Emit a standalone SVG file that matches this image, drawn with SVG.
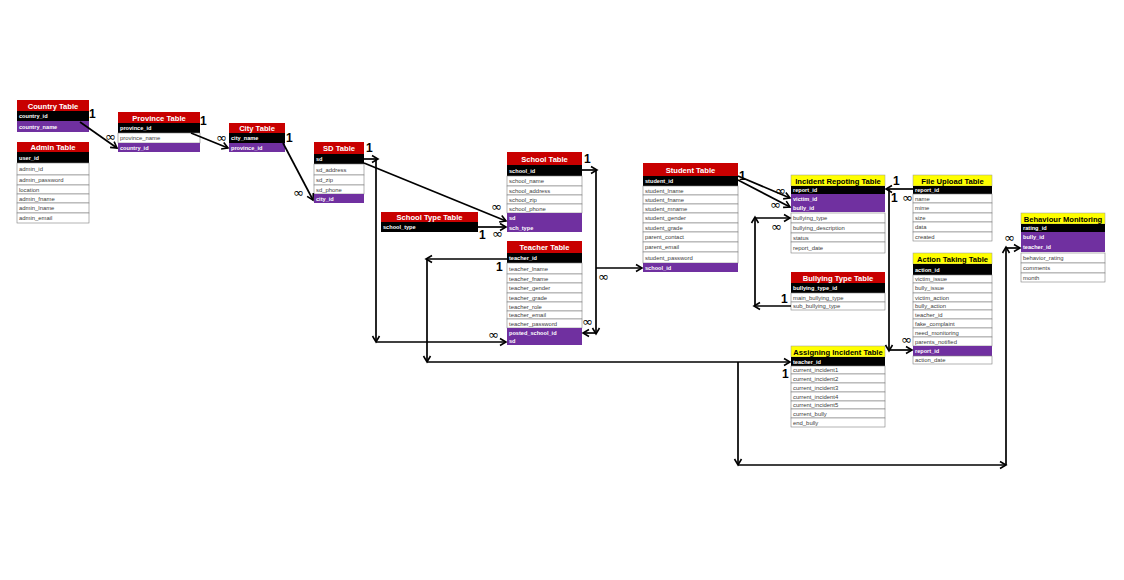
<svg xmlns="http://www.w3.org/2000/svg" width="1124" height="580" viewBox="0 0 1124 580">
<defs>
<marker id="ah" markerUnits="userSpaceOnUse" markerWidth="10" markerHeight="10" refX="8" refY="5" orient="auto">
<path d="M2,1.5 L8,5 L2,8.5" fill="none" stroke="#000" stroke-width="1.6"/>
</marker>
</defs>
<style>
.hr{fill:#c80000}
.hy{fill:#ffff00;stroke:#999;stroke-width:0.5}
.rk{fill:#000}
.rp{fill:#7030a0}
.rw{fill:#fff;stroke:#7f7f7f;stroke-width:0.6}
.th{font-family:"Liberation Sans",Arial,sans-serif;font-weight:bold;font-size:7.6px;fill:#fff;text-anchor:middle}
.thy{font-family:"Liberation Sans",Arial,sans-serif;font-weight:bold;font-size:7.6px;fill:#000;text-anchor:middle}
.tk{font-family:"Liberation Sans",Arial,sans-serif;font-weight:bold;font-size:5.6px;fill:#fff}
.tg{font-family:"Liberation Sans",Arial,sans-serif;font-size:5.9px;fill:#404040}
.ca{fill:none;stroke:#000;stroke-width:1.7;marker-end:url(#ah)}
.one{font-family:"Liberation Sans",Arial,sans-serif;font-weight:bold;font-size:12px;fill:#000}
.inf{font-family:"DejaVu Sans",sans-serif;font-size:13px;fill:#000}
</style>
<rect width="1124" height="580" fill="#fff"/>

<g id="country">
<rect class="hr" x="17" y="100" width="72" height="11"/><text class="th" x="53" y="108.5">Country Table</text>
<rect class="rk" x="17" y="111" width="72" height="10"/><text class="tk" x="19" y="118">country_id</text>
<rect class="rp" x="17" y="121" width="72" height="11"/><text class="tk" x="19" y="128.5">country_name</text>
</g>

<g id="admin">
<rect class="hr" x="17" y="142" width="72" height="10"/><text class="th" x="53" y="150">Admin Table</text>
<rect class="rk" x="17" y="152" width="72" height="11"/><text class="tk" x="19" y="159.5">user_id</text>
<rect class="rw" x="17" y="163" width="72" height="12"/><text class="tg" x="19" y="171">admin_id</text>
<rect class="rw" x="17" y="175" width="72" height="10"/><text class="tg" x="19" y="182">admin_password</text>
<rect class="rw" x="17" y="185" width="72" height="9"/><text class="tg" x="19" y="191.5">location</text>
<rect class="rw" x="17" y="194" width="72" height="9"/><text class="tg" x="19" y="200.5">admin_fname</text>
<rect class="rw" x="17" y="203" width="72" height="10"/><text class="tg" x="19" y="210">admin_lname</text>
<rect class="rw" x="17" y="213" width="72" height="10"/><text class="tg" x="19" y="220">admin_email</text>
</g>

<g id="province">
<rect class="hr" x="118" y="112" width="82" height="11"/><text class="th" x="159" y="120.5">Province Table</text>
<rect class="rk" x="118" y="123" width="82" height="10"/><text class="tk" x="120" y="130">province_id</text>
<rect class="rw" x="118" y="133" width="82" height="10"/><text class="tg" x="120" y="140">province_name</text>
<rect class="rp" x="118" y="143" width="82" height="9"/><text class="tk" x="120" y="149.5">country_id</text>
</g>

<g id="city">
<rect class="hr" x="229" y="123" width="56" height="10"/><text class="th" x="257" y="131">City Table</text>
<rect class="rk" x="229" y="133" width="56" height="10"/><text class="tk" x="231" y="140">city_name</text>
<rect class="rp" x="229" y="143" width="56" height="9"/><text class="tk" x="231" y="149.5">province_id</text>
</g>

<g id="sd">
<rect class="hr" x="314" y="142" width="50" height="12"/><text class="th" x="339" y="151">SD Table</text>
<rect class="rk" x="314" y="154" width="50" height="10"/><text class="tk" x="316" y="161">sd</text>
<rect class="rw" x="314" y="164" width="50" height="11"/><text class="tg" x="316" y="171.5">sd_address</text>
<rect class="rw" x="314" y="175" width="50" height="10"/><text class="tg" x="316" y="182">sd_zip</text>
<rect class="rw" x="314" y="185" width="50" height="9"/><text class="tg" x="316" y="191.5">sd_phone</text>
<rect class="rp" x="314" y="194" width="50" height="9"/><text class="tk" x="316" y="200.5">city_id</text>
</g>

<g id="schooltype">
<rect class="hr" x="381" y="212" width="97" height="10"/><text class="th" x="429.5" y="220">School Type Table</text>
<rect class="rk" x="381" y="222" width="97" height="10"/><text class="tk" x="383" y="229">school_type</text>
</g>

<g id="school">
<rect class="hr" x="507" y="152" width="75" height="13"/><text class="th" x="544.5" y="161.5">School Table</text>
<rect class="rk" x="507" y="165" width="75" height="11"/><text class="tk" x="509" y="172.5">school_id</text>
<rect class="rw" x="507" y="176" width="75" height="10"/><text class="tg" x="509" y="183">school_name</text>
<rect class="rw" x="507" y="186" width="75" height="9"/><text class="tg" x="509" y="192.5">school_address</text>
<rect class="rw" x="507" y="195" width="75" height="9"/><text class="tg" x="509" y="201.5">school_zip</text>
<rect class="rw" x="507" y="204" width="75" height="9"/><text class="tg" x="509" y="210.5">school_phone</text>
<rect class="rp" x="507" y="213" width="75" height="10"/><text class="tk" x="509" y="220">sd</text>
<rect class="rp" x="507" y="223" width="75" height="9"/><text class="tk" x="509" y="229.5">sch_type</text>
</g>

<g id="teacher">
<rect class="hr" x="507" y="241" width="75" height="12"/><text class="th" x="544.5" y="250">Teacher Table</text>
<rect class="rk" x="507" y="253" width="75" height="10"/><text class="tk" x="509" y="260">teacher_id</text>
<rect class="rw" x="507" y="263" width="75" height="11"/><text class="tg" x="509" y="270.5">teacher_lname</text>
<rect class="rw" x="507" y="274" width="75" height="9"/><text class="tg" x="509" y="280.5">teacher_fname</text>
<rect class="rw" x="507" y="283" width="75" height="10"/><text class="tg" x="509" y="290">teacher_gender</text>
<rect class="rw" x="507" y="293" width="75" height="9"/><text class="tg" x="509" y="299.5">teacher_grade</text>
<rect class="rw" x="507" y="302" width="75" height="9"/><text class="tg" x="509" y="308.5">teacher_role</text>
<rect class="rw" x="507" y="311" width="75" height="8"/><text class="tg" x="509" y="317">teacher_email</text>
<rect class="rw" x="507" y="319" width="75" height="9"/><text class="tg" x="509" y="325.5">teacher_password</text>
<rect class="rp" x="507" y="328" width="75" height="9"/><text class="tk" x="509" y="334.5">posted_school_id</text>
<rect class="rp" x="507" y="337" width="75" height="8"/><text class="tk" x="509" y="343">sd</text>
</g>

<g id="student">
<rect class="hr" x="643" y="163" width="95" height="13"/><text class="th" x="690.5" y="172.5">Student Table</text>
<rect class="rk" x="643" y="176" width="95" height="10"/><text class="tk" x="645" y="183">student_id</text>
<rect class="rw" x="643" y="186" width="95" height="9"/><text class="tg" x="645" y="192.5">student_lname</text>
<rect class="rw" x="643" y="195" width="95" height="9"/><text class="tg" x="645" y="201.5">student_fname</text>
<rect class="rw" x="643" y="204" width="95" height="9"/><text class="tg" x="645" y="210.5">student_mname</text>
<rect class="rw" x="643" y="213" width="95" height="10"/><text class="tg" x="645" y="220">student_gender</text>
<rect class="rw" x="643" y="223" width="95" height="9"/><text class="tg" x="645" y="229.5">student_grade</text>
<rect class="rw" x="643" y="232" width="95" height="10"/><text class="tg" x="645" y="239">parent_contact</text>
<rect class="rw" x="643" y="242" width="95" height="10"/><text class="tg" x="645" y="249">parent_email</text>
<rect class="rw" x="643" y="252" width="95" height="11"/><text class="tg" x="645" y="259.5">student_password</text>
<rect class="rp" x="643" y="263" width="95" height="9"/><text class="tk" x="645" y="269.5">school_id</text>
</g>

<g id="incident">
<rect class="hy" x="791" y="175" width="94" height="11"/><text class="thy" x="838" y="183.5">Incident Repoting Table</text>
<rect class="rk" x="791" y="186" width="94" height="8"/><text class="tk" x="793" y="192">report_id</text>
<rect class="rp" x="791" y="194" width="94" height="9"/><text class="tk" x="793" y="200.5">victim_id</text>
<rect class="rp" x="791" y="203" width="94" height="9"/><text class="tk" x="793" y="209.5">bully_id</text>
<rect class="rw" x="791" y="213" width="94" height="10"/><text class="tg" x="793" y="220">bullying_type</text>
<rect class="rw" x="791" y="223" width="94" height="10"/><text class="tg" x="793" y="230">bullying_description</text>
<rect class="rw" x="791" y="233" width="94" height="9"/><text class="tg" x="793" y="239.5">status</text>
<rect class="rw" x="791" y="242" width="94" height="11"/><text class="tg" x="793" y="249.5">report_date</text>
</g>

<g id="bullyingtype">
<rect class="hr" x="791" y="272" width="94" height="11"/><text class="th" x="838" y="280.5">Bullying Type Table</text>
<rect class="rk" x="791" y="283" width="94" height="10"/><text class="tk" x="793" y="290">bullying_type_id</text>
<rect class="rw" x="791" y="293" width="94" height="9"/><text class="tg" x="793" y="299.5">main_bullying_type</text>
<rect class="rw" x="791" y="302" width="94" height="8"/><text class="tg" x="793" y="308">sub_bullying_type</text>
</g>

<g id="fileupload">
<rect class="hy" x="913" y="175" width="79" height="11"/><text class="thy" x="952.5" y="183.5">File Upload Table</text>
<rect class="rk" x="913" y="186" width="79" height="8"/><text class="tk" x="915" y="192">report_id</text>
<rect class="rw" x="913" y="194" width="79" height="9"/><text class="tg" x="915" y="200.5">name</text>
<rect class="rw" x="913" y="203" width="79" height="10"/><text class="tg" x="915" y="210">mime</text>
<rect class="rw" x="913" y="213" width="79" height="9"/><text class="tg" x="915" y="219.5">size</text>
<rect class="rw" x="913" y="222" width="79" height="10"/><text class="tg" x="915" y="229">data</text>
<rect class="rw" x="913" y="232" width="79" height="9"/><text class="tg" x="915" y="238.5">created</text>
</g>

<g id="actiontaking">
<rect class="hy" x="913" y="253" width="79" height="11"/><text class="thy" x="952.5" y="261.5">Action Taking Table</text>
<rect class="rk" x="913" y="264" width="79" height="11"/><text class="tk" x="915" y="271.5">action_id</text>
<rect class="rw" x="913" y="275" width="79" height="8"/><text class="tg" x="915" y="281">victim_issue</text>
<rect class="rw" x="913" y="283" width="79" height="10"/><text class="tg" x="915" y="290">bully_issue</text>
<rect class="rw" x="913" y="293" width="79" height="9"/><text class="tg" x="915" y="299.5">victim_action</text>
<rect class="rw" x="913" y="302" width="79" height="8"/><text class="tg" x="915" y="308">bully_action</text>
<rect class="rw" x="913" y="310" width="79" height="9"/><text class="tg" x="915" y="316.5">teacher_id</text>
<rect class="rw" x="913" y="319" width="79" height="9"/><text class="tg" x="915" y="325.5">fake_complaint</text>
<rect class="rw" x="913" y="328" width="79" height="9"/><text class="tg" x="915" y="334.5">need_monitoring</text>
<rect class="rw" x="913" y="337" width="79" height="9"/><text class="tg" x="915" y="343.5">parents_notified</text>
<rect class="rp" x="913" y="346" width="79" height="10"/><text class="tk" x="915" y="353">report_id</text>
<rect class="rw" x="913" y="356" width="79" height="8"/><text class="tg" x="915" y="362">action_date</text>
</g>

<g id="assigning">
<rect class="hy" x="791" y="346" width="94" height="11"/><text class="thy" x="838" y="354.5">Assigning Incident Table</text>
<rect class="rk" x="791" y="357" width="94" height="9"/><text class="tk" x="793" y="363.5">teacher_id</text>
<rect class="rw" x="791" y="366" width="94" height="8"/><text class="tg" x="793" y="372">current_incident1</text>
<rect class="rw" x="791" y="374" width="94" height="9"/><text class="tg" x="793" y="380.5">current_incident2</text>
<rect class="rw" x="791" y="383" width="94" height="9"/><text class="tg" x="793" y="389.5">current_incident3</text>
<rect class="rw" x="791" y="392" width="94" height="9"/><text class="tg" x="793" y="398.5">current_incident4</text>
<rect class="rw" x="791" y="401" width="94" height="8"/><text class="tg" x="793" y="407">current_incident5</text>
<rect class="rw" x="791" y="409" width="94" height="9"/><text class="tg" x="793" y="415.5">current_bully</text>
<rect class="rw" x="791" y="418" width="94" height="9"/><text class="tg" x="793" y="424.5">end_bully</text>
</g>

<g id="behaviour">
<rect class="hy" x="1021" y="213" width="84" height="11"/><text class="thy" x="1063" y="221.5">Behaviour Monitoring</text>
<rect class="rk" x="1021" y="224" width="84" height="8"/><text class="tk" x="1023" y="230">rating_id</text>
<rect class="rp" x="1021" y="232" width="84" height="10"/><text class="tk" x="1023" y="239">bully_id</text>
<rect class="rp" x="1021" y="242" width="84" height="10"/><text class="tk" x="1023" y="249">teacher_id</text>
<rect class="rw" x="1021" y="253" width="84" height="10"/><text class="tg" x="1023" y="260">behavior_rating</text>
<rect class="rw" x="1021" y="263" width="84" height="10"/><text class="tg" x="1023" y="270">comments</text>
<rect class="rw" x="1021" y="273" width="84" height="9"/><text class="tg" x="1023" y="279.5">month</text>
</g>

<g id="connectors">
<path class="ca" d="M80,122 L117,148"/>
<path class="ca" d="M191,133 L228,148"/>
<path class="ca" d="M283,143 L313,200"/>
<path class="ca" d="M364,163 L506,221"/>
<path class="ca" d="M364,159 L378,159"/>
<path class="ca" d="M376,159 L376,342"/>
<path class="ca" d="M376,342 L506,342"/>
<path class="ca" d="M478,227 L506,227"/>
<path class="ca" d="M507,259 L426,259"/>
<path class="ca" d="M427,259 L427,362"/>
<path class="ca" d="M427,362 L790,362"/>
<path class="ca" d="M738,362 L738,465"/>
<path class="ca" d="M738,465 L1006,465"/>
<path class="ca" d="M1006,465 L1006,247"/>
<path class="ca" d="M1006,248 L1020,248"/>
<path class="ca" d="M582,170 L597,170"/>
<path class="ca" d="M596,170 L596,334"/>
<path class="ca" d="M596,333 L583,333"/>
<path class="ca" d="M596,268 L642,268"/>
<path class="ca" d="M738,176 L790,198"/>
<path class="ca" d="M738,180 L790,207"/>
<path class="ca" d="M791,306 L754,306"/>
<path class="ca" d="M755,306 L755,217"/>
<path class="ca" d="M755,218 L790,218"/>
<path class="ca" d="M913,189 L886,189"/>
<path class="ca" d="M889,189 L889,351"/>
<path class="ca" d="M889,350 L912,350"/>
<text class="one" x="89" y="118">1</text>
<text class="inf" x="105" y="141">∞</text>
<text class="one" x="200" y="125">1</text>
<text class="inf" x="216" y="142">∞</text>
<text class="one" x="286" y="142">1</text>
<text class="inf" x="293" y="197">∞</text>
<text class="one" x="366" y="152">1</text>
<text class="inf" x="491" y="211">∞</text>
<text class="one" x="479" y="239">1</text>
<text class="inf" x="492" y="238">∞</text>
<text class="one" x="496" y="271">1</text>
<text class="inf" x="488" y="339">∞</text>
<text class="one" x="584" y="163">1</text>
<text class="inf" x="598" y="281">∞</text>
<text class="inf" x="582" y="326">∞</text>
<text class="one" x="739" y="180">1</text>
<text class="inf" x="775" y="195">∞</text>
<text class="inf" x="770" y="209">∞</text>
<text class="inf" x="771" y="231">∞</text>
<text class="one" x="781" y="303">1</text>
<text class="one" x="893" y="185">1</text>
<text class="one" x="891" y="202">1</text>
<text class="inf" x="902" y="202">∞</text>
<text class="inf" x="901" y="344">∞</text>
<text class="one" x="782" y="378">1</text>
<text class="inf" x="1004" y="242">∞</text>
</g>
</svg>
